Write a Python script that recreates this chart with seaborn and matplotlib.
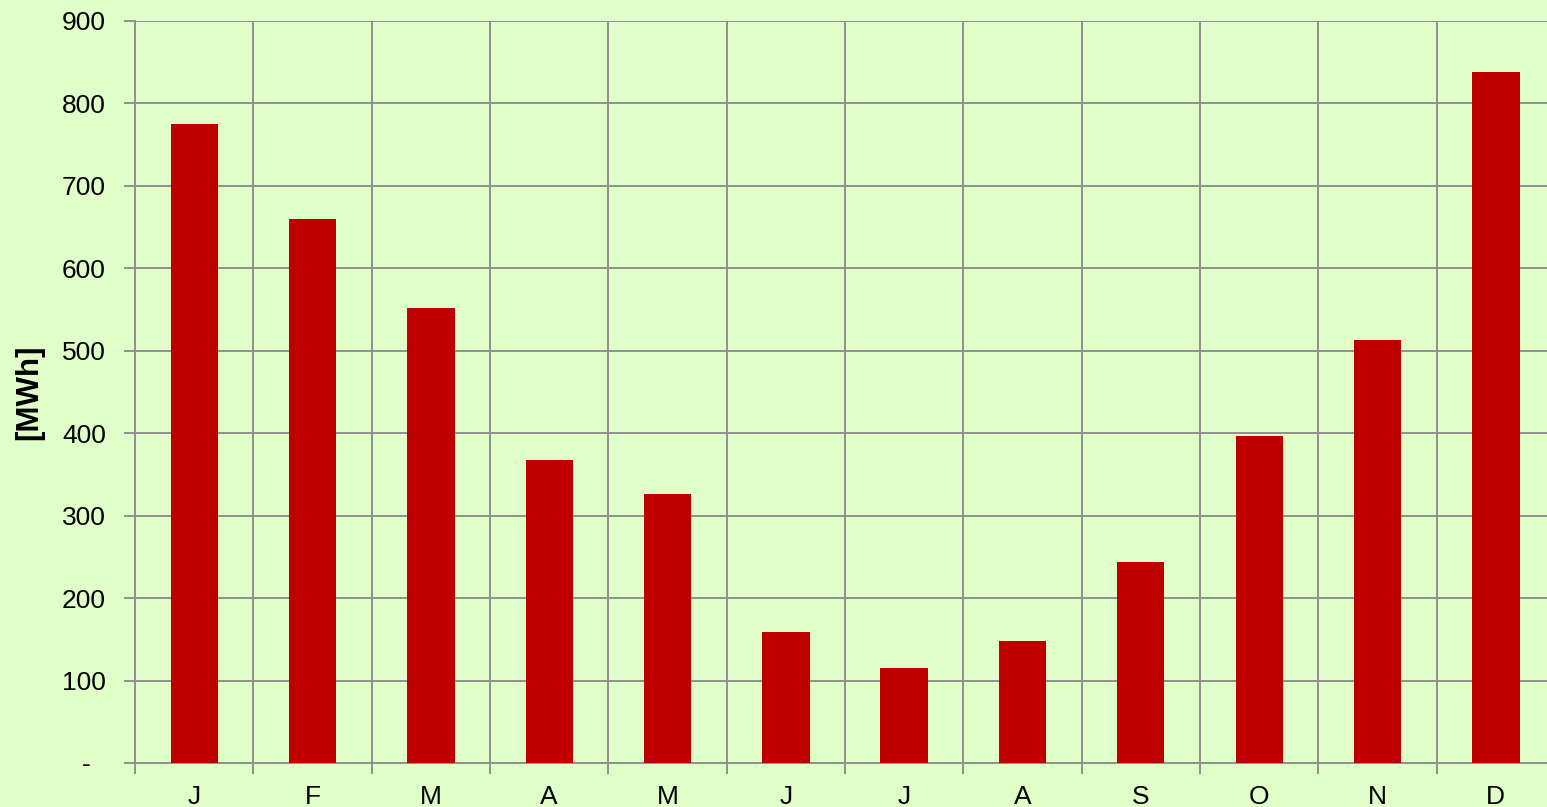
import matplotlib
matplotlib.use("Agg")
import matplotlib.pyplot as plt
import numpy as np
import pandas as pd
import seaborn as sns

months = ['J', 'F', 'M', 'A', 'M', 'J', 'J', 'A', 'S', 'O', 'N', 'D']
energy_mwh = [775, 660, 552, 367, 326, 159, 115, 148, 244, 397, 513, 838]
y_ticks = [0, 100, 200, 300, 400, 500, 600, 700, 800, 900]
y_labels = ['-  ', '100', '200', '300', '400', '500', '600', '700', '800', '900']

bg = '#E0FFC8'
grid_col = '#8F8F8F'

sns.set_style('white')
plt.rcParams['font.family'] = ['Liberation Sans', 'DejaVu Sans']
plt.rcParams['text.color'] = 'black'
plt.rcParams['xtick.labelcolor'] = 'black'
plt.rcParams['ytick.labelcolor'] = 'black'
plt.rcParams['axes.labelcolor'] = 'black'

df = pd.DataFrame({'pos': np.arange(len(months)), 'mwh': energy_mwh})

fig = plt.figure(figsize=(15.47, 8.07), dpi=100, facecolor=bg)
ax = fig.add_axes([135 / 1547, 1 - 763 / 807, 1420 / 1547, 742 / 807])
ax.set_facecolor(bg)

sns.barplot(data=df, x='pos', y='mwh', color='#C00000', width=0.4,
            saturation=1, edgecolor='#C00000', linewidth=0, ax=ax, zorder=3)

ax.set_xlim(-0.5, len(months) - 0.5)
ax.set_ylim(0, 900)
ax.set_xticks(np.arange(len(months)))
ax.set_xticklabels(months)
ax.set_xticks(np.arange(-0.5, len(months)), minor=True)
ax.set_yticks(y_ticks)
ax.set_yticklabels(y_labels)

ax.tick_params(axis='x', which='major', bottom=True, length=0, pad=16, labelsize=19)
ax.tick_params(axis='x', which='minor', bottom=True, length=8, width=1.4, color=grid_col, direction='out')
ax.tick_params(axis='y', left=True, length=8, width=1.4, color=grid_col, direction='out', pad=13, labelsize=19)
ax.yaxis.grid(True, color=grid_col, linewidth=1.4)
ax.xaxis.grid(True, which='minor', color=grid_col, linewidth=1.4)
ax.xaxis.grid(False, which='major')
ax.set_axisbelow(True)

for side in ['top', 'right']:
    ax.spines[side].set_visible(False)
for side in ['left', 'bottom']:
    ax.spines[side].set_color(grid_col)
    ax.spines[side].set_linewidth(1.4)

ax.set_xlabel('')
ax.set_ylabel('[MWh]', fontsize=22.5, fontweight='bold')
ax.yaxis.set_label_coords((44 - 135) / 1420, 0.5)

fig.savefig('out.png', dpi=100, facecolor=bg)
